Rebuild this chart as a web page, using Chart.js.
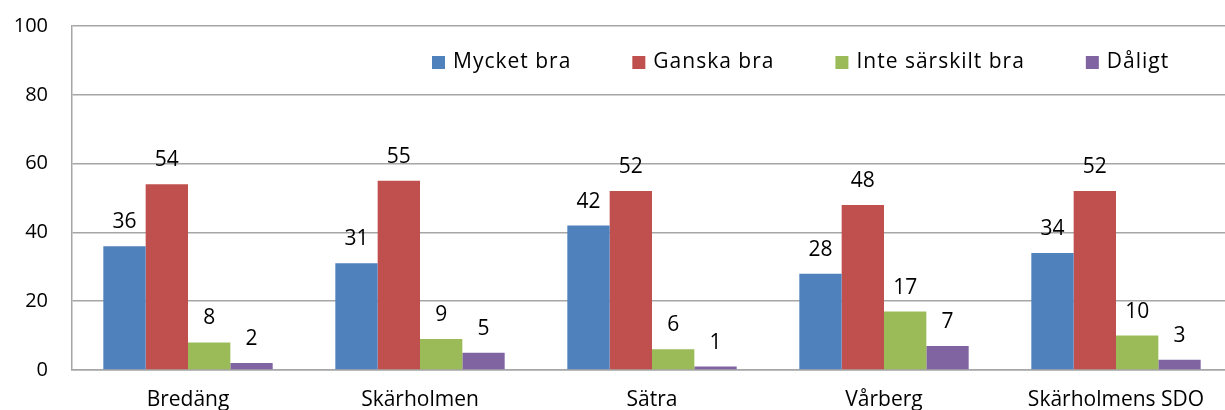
<!DOCTYPE html>
<html>
<head>
<meta charset="utf-8">
<script src="https://cdn.jsdelivr.net/npm/chart.js@4/dist/chart.umd.min.js"></script>
<style>
  html, body { margin: 0; padding: 0; background: #fff; overflow: hidden; }
  #wrap { width: 1232px; height: 410px; }
</style>
</head>
<body>
<div id="wrap"><canvas id="chart"></canvas></div>
<script>
// data uit diagrammet
const omraden = ["Bredäng", "Skärholmen", "Sätra", "Vårberg", "Skärholmens SDO"]
const mycketBra = [36, 31, 42, 28, 34]
const ganskaBra = [54, 55, 52, 48, 52]
const inteSarskiltBra = [8, 9, 6, 17, 10]
const daligt = [2, 5, 1, 7, 3]
const serieNamn = ["Mycket bra", "Ganska bra", "Inte särskilt bra", "Dåligt"]
const yTicks = [0, 20, 40, 60, 80, 100]

const farger = ["#4F81BD", "#C0504D", "#9BBB59", "#8064A2"]
const fontFamily = "'Open Sans', 'Noto Sans', sans-serif"

// värden ovanför staplarna
const varden = {
  id: "varden",
  afterDatasetsDraw(chart) {
    const ctx = chart.ctx
    ctx.save()
    ctx.font = "21px " + fontFamily
    ctx.fillStyle = "#000"
    ctx.textAlign = "center"
    ctx.textBaseline = "alphabetic"
    chart.data.datasets.forEach((ds, i) => {
      chart.getDatasetMeta(i).data.forEach((bar, j) => {
        ctx.fillText(ds.data[j], bar.x, bar.y - 18)
      })
    })
    ctx.restore()
  },
}

// legend inne i diagramytan
const legend = {
  id: "egenLegend",
  afterDraw(chart) {
    const ctx = chart.ctx
    ctx.save()
    ctx.font = "21px " + fontFamily
    ctx.letterSpacing = "1px"
    ctx.textBaseline = "middle"
    let x = 432
    const y = 62
    chart.data.datasets.forEach((ds) => {
      ctx.fillStyle = ds.backgroundColor
      ctx.fillRect(x, y - 6, 13, 13)
      ctx.fillStyle = "#000"
      ctx.fillText(ds.label, x + 21, y)
      x += 21 + ctx.measureText(ds.label).width + 61
    })
    ctx.restore()
  },
}

const serier = [mycketBra, ganskaBra, inteSarskiltBra, daligt]

new Chart(document.getElementById("chart"), {
  type: "bar",
  data: {
    labels: omraden,
    datasets: serier.map((d, i) => ({
      label: serieNamn[i],
      data: d,
      backgroundColor: farger[i],
      categoryPercentage: 0.73,
      barPercentage: 1.0,
    })),
  },
  options: {
    responsive: true,
    maintainAspectRatio: false,
    animation: false,
    layout: { padding: { top: 26, right: 0, left: 0, bottom: 0 } },
    plugins: {
      legend: { display: false },
      tooltip: { enabled: false },
    },
    scales: {
      x: {
        grid: { display: false, drawTicks: false },
        border: { display: true, color: "#a6a6a6", width: 1.5 },
        ticks: { color: "#000", padding: 17, font: { size: 21, family: fontFamily } },
        afterFit(scale) {
          scale.height = 40
          scale.paddingLeft = 0
          scale.paddingRight = 0
        },
      },
      y: {
        min: 0,
        max: 100,
        afterBuildTicks(scale) { scale.ticks = yTicks.map((v) => ({ value: v })) },
        grid: { color: "#a6a6a6", lineWidth: 1.5, drawTicks: false },
        border: { display: true, color: "#a6a6a6", width: 1.5 },
        ticks: { color: "#000", padding: 24, font: { size: 20, family: fontFamily } },
        afterFit(scale) {
          scale.width = 72
          scale.paddingTop = 0
          scale.paddingBottom = 0
        },
      },
    },
  },
  plugins: [varden, legend],
})
</script>
</body>
</html>
